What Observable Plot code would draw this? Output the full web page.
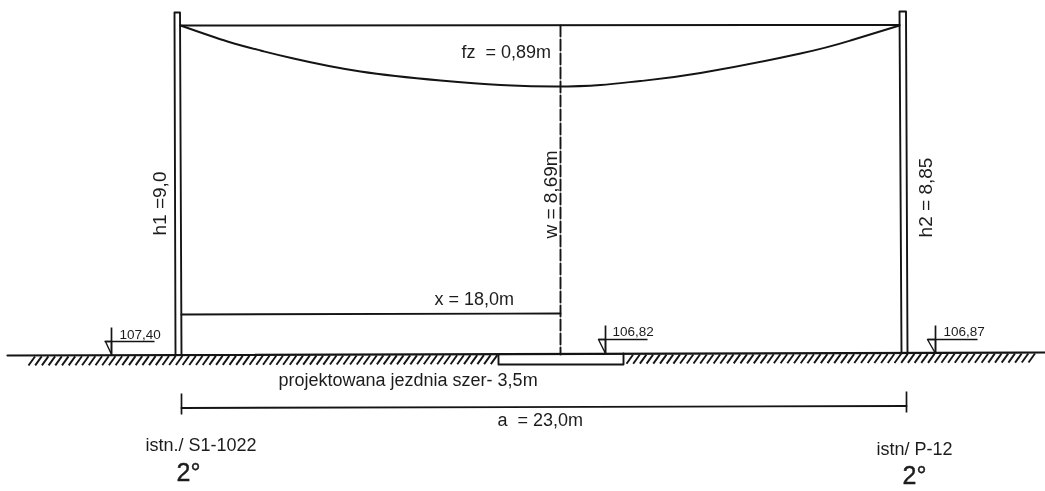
<!DOCTYPE html>
<html><head><meta charset="utf-8">
<script src="https://cdn.jsdelivr.net/npm/d3@7"></script>
<script src="https://cdn.jsdelivr.net/npm/@observablehq/plot@0.6"></script>
<style>
html,body{margin:0;padding:0;background:#fff}
svg{display:block;filter:blur(.4px)}
svg text{white-space:pre}
</style></head><body>
<script>
// Drawing coordinates, in the sheet's own units
const leftPole  = [[175,354],[174,12],[179.5,12],[181,354]];
const rightPole = [[901,353],[899,11],[905.5,11],[907,353]];
const wireTop   = [[180,25],[899,24.5]];
const sagCurve  = [[180,25],[227,41],[260,50],[293,58],[360,71],[440,80],[500,84.5],[555,86],[600,84.5],[640,80.5],[700,72.5],[800,53],[850,40],[899,25]];
const ground    = [[7,355],[1044,352]];
const roadBed   = [[498,354],[498,364],[623,364],[623,353]];
const centreLine = [[560,25],[560,354]];
const xDim      = [[181,314],[560,313]];
const aDim      = [[181,407.5],[906,405.5]];
const aTicks    = [[181,393,181,414],[906,391,906,412]];
const levelMarks = [
  {stem:[111,327,111,355], shelf:[104,341,154,341], tri:[[105,341],[111,354],[111,341]]},
  {stem:[605,325,605,353], shelf:[598,339,647,339], tri:[[598,339],[605,353],[605,339]]},
  {stem:[935,325,935,353], shelf:[927,339,977,339], tri:[[927,339],[935,353],[935,339]]}
];
const hatchSpans = [[28,492],[626,1034]];
const hatchPitch = 6.7;

const levelLabels = [["107,40",119,334],["106,82",612,331],["106,87",943,331]];
const mainLabels = [
  ["fz  = 0,89m",461,52],["x = 18,0m",434,299],
  ["projektowana jezdnia szer- 3,5m",278,380],["a  = 23,0m",497,420],
  ["istn./ S1-1022",145,445],["istn/ P-12",876,449]
];
const verticalLabels = [["h1 =9,0",159,203],["w = 8,69m",550,194],["h2 = 8,85",925,197]];
const angleLabels = [["2°",176,472],["2°",902,475]];

const ink = "#141414";
const groundY = x => 355 - (x-7)*3/1037;
const hatches = hatchSpans.flatMap(([a,b]) => d3.range(a,b,hatchPitch).map(x => [x, groundY(x)+10, x+6.5, groundY(x)+1]));
const font = "'Liberation Sans', Arial, sans-serif";
const line = (pts,o={}) => Plot.line(pts,{x:d=>d[0],y:d=>d[1],stroke:ink,strokeWidth:1.9,...o});
const links = (rows,o={}) => Plot.link(rows,{x1:d=>d[0],y1:d=>d[1],x2:d=>d[2],y2:d=>d[3],stroke:ink,strokeWidth:1.7,...o});
const labels = (rows,o={}) => Plot.text(rows,{text:d=>d[0],x:d=>d[1],y:d=>d[2],fill:"#1c1c1c",fontFamily:font,textAnchor:"start",lineAnchor:"middle",...o});

document.body.append(Plot.plot({
  width:1045,height:491,margin:0,
  x:{domain:[0,1045],range:[0,1045],axis:null},
  y:{domain:[0,491],range:[0,491],axis:null},
  style:{background:"#fff"},
  marks:[
    links(hatches,{strokeWidth:1.9}),
    Plot.rect([[498,623,354,364]],{x1:d=>d[0],x2:d=>d[1],y1:d=>d[2],y2:d=>d[3],fill:"#fff"}),
    line(ground,{strokeWidth:2.2}),
    line(roadBed),
    line(leftPole),line(rightPole),
    line(wireTop,{strokeWidth:2}),
    line(sagCurve,{curve:"natural"}),
    line(centreLine,{strokeDasharray:"11,3"}),
    line(xDim),line(aDim),
    links(aTicks),
    links(levelMarks.map(m=>m.stem),{strokeWidth:1.7}),
    links(levelMarks.map(m=>m.shelf),{strokeWidth:1.6}),
    ...levelMarks.map(m=>line([...m.tri,m.tri[0]],{strokeWidth:1.4})),
    labels(levelLabels,{fontSize:13.5}),
    labels(mainLabels,{fontSize:18}),
    labels(verticalLabels,{fontSize:19,textAnchor:"middle",rotate:-90}),
    labels(angleLabels,{fontSize:25,stroke:"#1c1c1c",strokeWidth:.4})
  ]
}));
</script></body></html>
